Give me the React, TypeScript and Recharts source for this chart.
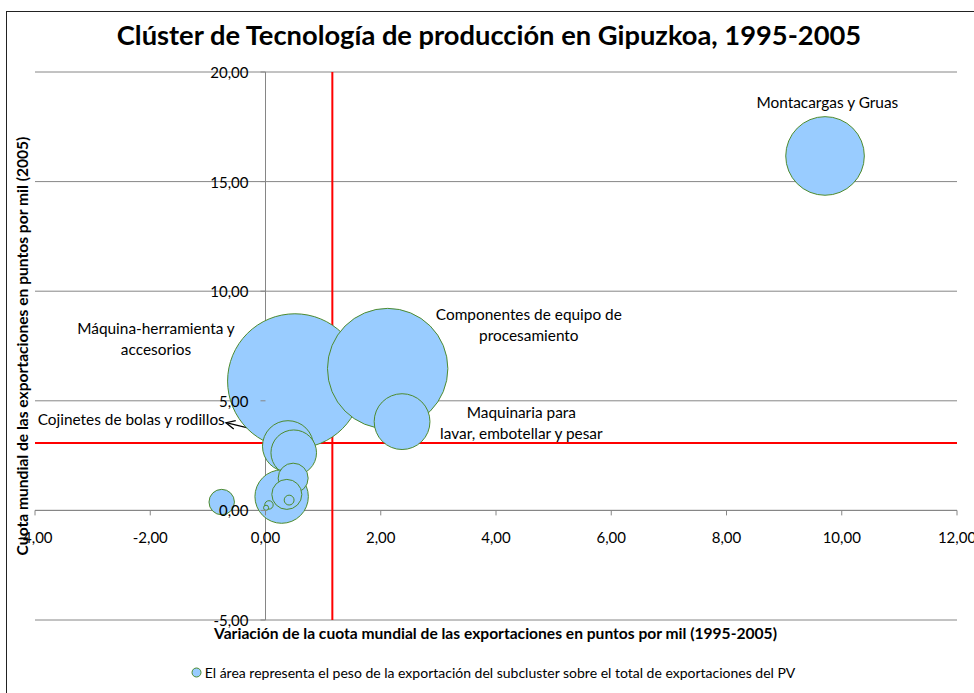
import React from 'react';
import {
  ScatterChart,
  Scatter,
  XAxis,
  YAxis,
  ZAxis,
  CartesianGrid,
  ReferenceLine,
  ReferenceDot,
  Legend,
} from 'recharts';

// ---- data ----
const subclusters = [
  'Máquina-herramienta y accesorios',
  'Componentes de equipo de procesamiento',
  'Montacargas y Gruas',
  'Maquinaria para lavar, embotellar y pesar',
  'Cojinetes de bolas y rodillos',
  'Subcluster 6',
  'Subcluster 7',
  'Subcluster 8',
  'Subcluster 9',
  'Subcluster 10',
  'Subcluster 11',
  'Subcluster 12',
  'Subcluster 13',
];
const variacion = [0.51, 2.12, 9.71, 2.37, 0.39, 0.49, 0.28, 0.48, 0.37, 0.41, -0.76, 0.06, 0.01];
const cuota = [5.9, 6.47, 16.17, 4.05, 2.93, 2.63, 0.63, 1.47, 0.73, 0.47, 0.38, 0.25, 0.12];
const peso = [28.0, 22.4, 9.55, 4.81, 4.02, 3.21, 4.41, 1.39, 1.39, 0.15, 1.0, 0.11, 0.04];

const xTicks = [-4, -2, 0, 2, 4, 6, 8, 10, 12];
const yTicks = [-5, 0, 5, 10, 15, 20];
const umbralVariacion = 1.16;
const umbralCuota = 3.07;

const annotations = [
  { x: 9.75, y: 18.63, lines: ['Montacargas y Gruas'] },
  { x: -1.9, y: 7.82, lines: ['Máquina-herramienta y', 'accesorios'] },
  { x: 4.57, y: 8.48, lines: ['Componentes de equipo de', 'procesamiento'] },
  { x: 4.44, y: 3.99, lines: ['Maquinaria para', 'lavar, embotellar y pesar'] },
  { x: -2.33, y: 4.17, lines: ['Cojinetes de bolas y rodillos'] },
];
const arrowFrom = { x: 0.135, y: 3.49 };
const arrowTo = { x: -0.686, y: 4.0 };

const title = 'Clúster de Tecnología de producción en Gipuzkoa, 1995-2005';
const xTitle = 'Variación de la cuota mundial de las exportaciones en puntos por mil (1995-2005)';
const yTitle = 'Cuota mundial de las exportaciones en puntos por mil (2005)';
const legendText =
  'El área representa el peso de la exportación del subcluster sobre el total de exportaciones del PV';

const data = subclusters.map((name, i) => ({
  name,
  x: variacion[i],
  y: cuota[i],
  z: peso[i],
}));

// ---- layout ----
const W = 974;
const H = 693;
const PLOT = { top: 72, right: 17, bottom: 73, left: 35 };
const M = { top: PLOT.top, right: PLOT.right, bottom: PLOT.bottom - 1, left: PLOT.left - 1 };
const X_DOMAIN: [number, number] = [-4, 12];
const Y_DOMAIN: [number, number] = [-5, 20];
const PW = W - PLOT.left - PLOT.right;
const PH = H - PLOT.top - PLOT.bottom;
const X0 = PLOT.left + (PW * (0 - X_DOMAIN[0])) / (X_DOMAIN[1] - X_DOMAIN[0]);
const Y0 = PLOT.top + (PH * (Y_DOMAIN[1] - 0)) / (Y_DOMAIN[1] - Y_DOMAIN[0]);
const MAX_R = 67.3;

const FONT = 'Lato, "Open Sans", sans-serif';
const GRID = '#868686';
const FILL = '#99CCFF';
const STROKE = '#4E8B2E';

const fmt = (v: number) => v.toFixed(2).replace('.', ',');

const XTick = (props: any) => {
  const { x, payload } = props;
  return (
    <g>
      <line x1={x} x2={x} y1={Y0} y2={Y0 + 5} stroke={GRID} />
      <text
        x={x}
        y={Y0 + 27}
        textAnchor="middle"
        dominantBaseline="central"
        fontFamily={FONT}
        fontSize={15}
        fill="#000"
      >
        {fmt(payload.value)}
      </text>
    </g>
  );
};

const YTick = (props: any) => {
  const { y, payload } = props;
  return (
    <g>
      <line x1={X0 - 5} x2={X0} y1={y} y2={y} stroke={GRID} />
      <text
        x={X0 - 17}
        y={y}
        textAnchor="end"
        dominantBaseline="central"
        fontFamily={FONT}
        fontSize={15}
        fill="#000"
      >
        {fmt(payload.value)}
      </text>
    </g>
  );
};

const makeAnnotation = (lines: string[]) => (props: any) => {
  const { cx, cy } = props;
  const lh = 21;
  const start = cy - ((lines.length - 1) * lh) / 2;
  return (
    <g>
      {lines.map((l, i) => (
        <text
          key={i}
          x={cx}
          y={start + i * lh}
          textAnchor="middle"
          dominantBaseline="central"
          fontFamily={FONT}
          fontSize={15.4}
          fill="#000"
        >
          {l}
        </text>
      ))}
    </g>
  );
};

const ArrowShape = (props: any) => {
  const { x1, y1, x2, y2 } = props;
  if ([x1, y1, x2, y2].some((v) => typeof v !== 'number')) return null;
  const ang = Math.atan2(y2 - y1, x2 - x1);
  const len = 10;
  const spread = 0.45;
  const ax = x2 - len * Math.cos(ang - spread);
  const ay = y2 - len * Math.sin(ang - spread);
  const bx = x2 - len * Math.cos(ang + spread);
  const by = y2 - len * Math.sin(ang + spread);
  return (
    <g>
      <line x1={x1} y1={y1} x2={x2} y2={y2} stroke="#000" strokeWidth={1.3} />
      <polyline
        points={`${ax},${ay} ${x2},${y2} ${bx},${by}`}
        fill="none"
        stroke="#000"
        strokeWidth={1.3}
      />
    </g>
  );
};

const LegendContent = () => (
  <div
    style={{
      display: 'flex',
      justifyContent: 'center',
      alignItems: 'center',
      fontFamily: FONT,
      fontSize: 14,
      color: '#000',
      paddingLeft: 12,
    }}
  >
    <svg width={11} height={11} style={{ marginRight: 3 }}>
      <circle cx={5.5} cy={5.5} r={4.5} fill={FILL} stroke={STROKE} strokeWidth={1} />
    </svg>
    <span>{legendText}</span>
  </div>
);

export default function App() {
  const maxZ = Math.max(...peso);
  return (
    <div style={{ position: 'absolute', left: 0, top: 0, width: W, height: H, background: '#fff' }}>
      <div
        style={{
          position: 'absolute',
          left: 6,
          top: 11,
          width: W - 6,
          height: H - 11,
          borderLeft: '1px solid #222',
          borderTop: '1px solid #222',
          boxSizing: 'border-box',
        }}
      />
      <div
        style={{
          position: 'absolute',
          left: 0,
          top: 18,
          width: 978,
          textAlign: 'center',
          fontFamily: FONT,
          fontWeight: 700,
          fontSize: 27.3,
          lineHeight: '34px',
          color: '#000',
        }}
      >
        {title}
      </div>
      <div style={{ position: 'absolute', left: 0, top: 0 }}>
        <ScatterChart width={W} height={H} margin={M}>
          <CartesianGrid horizontal vertical={false} stroke={GRID} strokeWidth={1} />
          <ZAxis type="number" dataKey="z" domain={[0, maxZ]} range={[0, Math.PI * MAX_R * MAX_R]} />
          <ReferenceLine x={0} stroke={GRID} strokeWidth={1} />
          <ReferenceLine y={0} stroke={GRID} strokeWidth={1} />
          <Scatter
            name={legendText}
            data={data}
            fill={FILL}
            stroke={STROKE}
            strokeWidth={1}
            isAnimationActive={false}
          />
          <XAxis
            type="number"
            dataKey="x"
            domain={X_DOMAIN}
            ticks={xTicks}
            height={1}
            axisLine={false}
            tickLine={false}
            tick={<XTick />}
            interval={0}
            allowDataOverflow
            zIndex={1200}
          />
          <YAxis
            type="number"
            dataKey="y"
            domain={Y_DOMAIN}
            ticks={yTicks}
            width={1}
            axisLine={false}
            tickLine={false}
            tick={<YTick />}
            interval={0}
            allowDataOverflow
            zIndex={1200}
          />
          <ReferenceLine x={umbralVariacion} stroke="#FF0000" strokeWidth={2} />
          <ReferenceLine y={umbralCuota} stroke="#FF0000" strokeWidth={2} />
          <ReferenceLine
            segment={[arrowFrom, arrowTo]}
            shape={(p: any) => <ArrowShape {...p} />}
          />
          {annotations.map((a, i) => (
            <ReferenceDot
              key={i}
              x={a.x}
              y={a.y}
              r={0}
              shape={makeAnnotation(a.lines)}
            />
          ))}
          <Legend
            verticalAlign="middle"
            layout="horizontal"
            wrapperStyle={{ top: 664, left: 0, width: W }}
            content={<LegendContent />}
          />
        </ScatterChart>
      </div>
      <div
        style={{
          position: 'absolute',
          left: 0,
          top: 623,
          width: 991,
          textAlign: 'center',
          fontFamily: FONT,
          fontWeight: 700,
          fontSize: 15.6,
          lineHeight: '20px',
          color: '#000',
        }}
      >
        {xTitle}
      </div>
      <div
        style={{
          position: 'absolute',
          left: 22,
          top: 346,
          width: 0,
          height: 0,
        }}
      >
        <div
          style={{
            position: 'absolute',
            left: 0,
            top: 0,
            transform: 'translate(-50%, -50%) rotate(-90deg)',
            whiteSpace: 'nowrap',
            fontFamily: FONT,
            fontWeight: 700,
            fontSize: 15.6,
            lineHeight: '20px',
            color: '#000',
          }}
        >
          {yTitle}
        </div>
      </div>
    </div>
  );
}
